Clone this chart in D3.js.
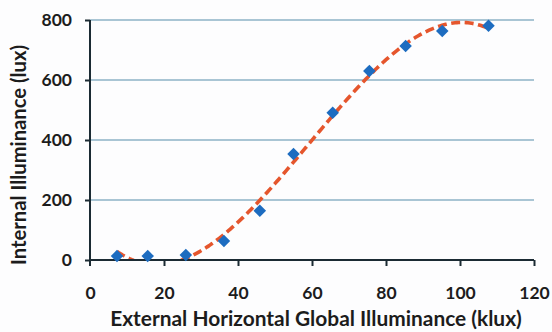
<!DOCTYPE html>
<html>
<head>
<meta charset="utf-8">
<script src="https://cdn.jsdelivr.net/npm/d3@7"></script>
<style>
  html, body { margin: 0; padding: 0; background: #ffffff; }
  svg { display: block; }
  text { font-family: Lato, "Open Sans", sans-serif; font-weight: 700; fill: #1c1c1c; }
</style>
</head>
<body>
<div id="chart"></div>
<script>
// Measured illuminance pairs
const externalKlux = [7.3, 15.6, 25.9, 36.2, 45.9, 55.0, 65.6, 75.5, 85.3, 95.2, 107.7];
const internalLux  = [13, 13, 17, 63, 164, 353, 491, 630, 713, 763, 781];

const xTicks = [0, 20, 40, 60, 80, 100, 120];
const yTicks = [0, 200, 400, 600, 800];

const xTitle = "External Horizontal Global Illuminance (klux)";
const yTitle = "Internal Illuminance (lux)";

const W = 552, H = 332;
const margin = { left: 90, right: 18, top: 20, bottom: 72 };
const fontStack = 'Lato, "Open Sans", sans-serif';

const svg = d3.select("#chart").append("svg").attr("width", W).attr("height", H);

svg.append("rect").attr("width", W).attr("height", H).attr("fill", "#fdfdfe");

const x = d3.scaleLinear().domain([0, 120]).range([margin.left, W - margin.right]);
const y = d3.scaleLinear().domain([0, 800]).range([H - margin.bottom, margin.top]);

// Horizontal gridlines
svg.append("g")
  .selectAll("line")
  .data(yTicks.filter(d => d > 0))
  .join("line")
  .attr("x1", x(0)).attr("x2", x(120))
  .attr("y1", d => y(d)).attr("y2", d => y(d))
  .attr("stroke", "#8db2c6").attr("stroke-width", 1.3);

// Third-order polynomial trendline (least squares on the data)
function polyFit(xs, ys, order) {
  const n = order + 1;
  const A = Array.from({ length: n }, () => new Array(n + 1).fill(0));
  xs.forEach((xv, k) => {
    for (let i = 0; i < n; i++) {
      for (let j = 0; j < n; j++) A[i][j] += Math.pow(xv, i + j);
      A[i][n] += ys[k] * Math.pow(xv, i);
    }
  });
  for (let c = 0; c < n; c++) {
    let p = c;
    for (let r = c + 1; r < n; r++) if (Math.abs(A[r][c]) > Math.abs(A[p][c])) p = r;
    [A[c], A[p]] = [A[p], A[c]];
    for (let r = 0; r < n; r++) {
      if (r === c) continue;
      const f = A[r][c] / A[c][c];
      for (let k = c; k <= n; k++) A[r][k] -= f * A[c][k];
    }
  }
  return A.map((row, i) => row[n] / row[i]);
}
const coef = polyFit(externalKlux, internalLux, 3);
const trend = xv => coef.reduce((s, c, i) => s + c * Math.pow(xv, i), 0);
const xMin = d3.min(externalKlux), xMax = d3.max(externalKlux);
const trendPts = d3.range(0, 201).map(i => {
  const xv = xMin + (xMax - xMin) * i / 200;
  return [xv, trend(xv)];
});

svg.append("clipPath").attr("id", "plotClip")
  .append("rect")
  .attr("x", x(0)).attr("y", y(800) - 10)
  .attr("width", x(120) - x(0)).attr("height", y(0) - y(800) + 10);

svg.append("path")
  .datum(trendPts)
  .attr("clip-path", "url(#plotClip)")
  .attr("d", d3.line().x(d => x(d[0])).y(d => y(d[1])))
  .attr("fill", "none")
  .attr("stroke", "#e5562d")
  .attr("stroke-width", 3.6)
  .attr("stroke-dasharray", "9,4.5");

// Axes
const axisColor = "#1b2a33";
const xAxis = svg.append("g")
  .attr("transform", `translate(0,${y(0)})`)
  .call(d3.axisBottom(x).tickValues(xTicks).tickSize(6).tickPadding(21).tickFormat(d3.format("d")));
const yAxis = svg.append("g")
  .attr("transform", `translate(${x(0)},0)`)
  .call(d3.axisLeft(y).tickValues(yTicks).tickSize(5).tickPadding(13).tickFormat(d3.format("d")));
[xAxis, yAxis].forEach(g => {
  g.select(".domain").attr("stroke", axisColor).attr("stroke-width", 2);
  g.selectAll(".tick line").attr("stroke", axisColor).attr("stroke-width", 2);
  g.selectAll("text").attr("font-size", 17.5).attr("fill", "#1c1c1c")
    .style("font-family", fontStack).style("font-weight", 700);
});
xAxis.select(".domain").attr("d", `M${x(0)},0H${x(120)}`);
yAxis.select(".domain").attr("d", `M0,${y(800)}V${y(0) + 6}`);
xAxis.selectAll(".tick").filter(d => d === 0).select("line").remove();

// Data markers (diamonds)
svg.append("g")
  .selectAll("path")
  .data(externalKlux.map((v, i) => [v, internalLux[i]]))
  .join("path")
  .attr("transform", d => `translate(${x(d[0])},${y(d[1])})`)
  .attr("d", d3.symbol().type(d3.symbolDiamond2).size(100))
  .attr("fill", "#1d6cc0");

// Axis titles, sized to span their intended widths
function fitText(sel, target) {
  const len = sel.node().getComputedTextLength();
  const fs = parseFloat(sel.attr("font-size"));
  sel.attr("font-size", fs * target / len);
}

const xt = svg.append("text")
  .attr("x", 316)
  .attr("y", 326)
  .attr("text-anchor", "middle")
  .attr("font-size", 18)
  .text(xTitle);
fitText(xt, 412);

const yt = svg.append("text")
  .attr("transform", `translate(26,155) rotate(-90)`)
  .attr("text-anchor", "middle")
  .attr("font-size", 18)
  .text(yTitle);
fitText(yt, 220);
</script>
</body>
</html>
